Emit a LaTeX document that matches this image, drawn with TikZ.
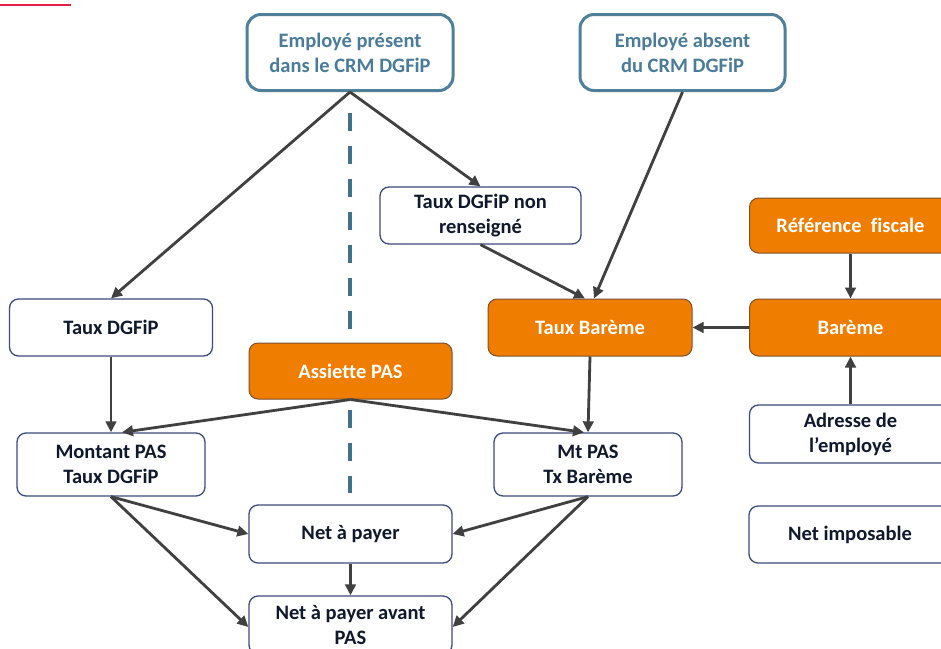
\documentclass[tikz,border=0pt]{standalone}
\usepackage{fontspec}
\setmainfont{Carlito}[Ligatures={NoCommon}]
\usetikzlibrary{arrows.meta,calc}
\definecolor{orng}{HTML}{EF7D00}
\definecolor{orline}{HTML}{7A5030}
\definecolor{boxline}{HTML}{3C4A7C}
\definecolor{txt}{HTML}{10182C}
\definecolor{topc}{HTML}{4F7F99}
\definecolor{toptxt}{HTML}{4A7C9A}
\definecolor{arrc}{HTML}{404040}
\definecolor{dashc}{HTML}{41718C}
\definecolor{redl}{HTML}{E31F4A}
\tikzset{
  whitebox/.style={draw=boxline, line width=1.3pt, rounded corners=9pt, fill=white, align=center, inner sep=0pt, text=txt},
  orangebox/.style={draw=orline, line width=1pt, rounded corners=9pt, fill=orng, align=center, inner sep=0pt, text=white},
  topbox/.style={draw=topc, line width=3pt, rounded corners=14pt, fill=white, align=center, inner sep=0pt, text=toptxt},
  conn/.style={draw=arrc, line width=2.8pt, -{Triangle[length=11pt,width=10.5pt]}},
  dashline/.style={draw=dashc, line width=4pt, dash pattern=on 18pt off 15pt},
  redline/.style={draw=redl, line width=1.6pt}
}
\begin{document}
\begin{tikzpicture}[x=1pt,y=-1pt,font=\fontsize{20.5}{25}\selectfont\bfseries]
\clip (0,0) rectangle (941,648);
\fill[white] (0,0) rectangle (941,648);
\draw[redline] (0,5) -- (71,5);
\coordinate (dtop) at (350,113);
\coordinate (dbot) at (350,493);
\draw[dashline] (dtop) -- (dbot);

\node[topbox, minimum width=206pt, minimum height=76pt] (pres) at (350,52.5) {Employé présent\\dans le CRM DGFiP};
\node[topbox, minimum width=205pt, minimum height=76pt] (abs) at (682.5,52.5) {Employé absent\\du CRM DGFiP};
\node[whitebox, minimum width=201pt, minimum height=57pt] (tnr) at (480.5,215.5) {Taux DGFiP non\\renseigné};
\node[orangebox, minimum width=202pt, minimum height=55pt] (ref) at (850.5,225.5) {Référence\ \ fiscale};
\node[whitebox, minimum width=203pt, minimum height=57pt] (td) at (111,327.5) {Taux DGFiP};
\node[orangebox, minimum width=204pt, minimum height=57pt] (tb) at (590,327.5) {Taux Barème};
\node[orangebox, minimum width=202pt, minimum height=57pt] (bar) at (850.5,327.5) {Barème};
\node[orangebox, minimum width=203pt, minimum height=56pt] (asp) at (350.5,371) {Assiette PAS};
\node[whitebox, minimum width=188pt, minimum height=63pt] (mp) at (111,464.5) {Montant PAS\\Taux DGFiP};
\node[whitebox, minimum width=188pt, minimum height=63pt] (mt) at (588,464.5) {Mt PAS\\Tx Barème};
\node[whitebox, minimum width=202pt, minimum height=58pt] (adr) at (850.5,434) {Adresse de\\l’employé};
\node[whitebox, minimum width=203pt, minimum height=58pt] (np) at (350.5,534) {Net à payer};
\node[whitebox, minimum width=203pt, minimum height=58pt] (nav) at (350.5,625) {Net à payer avant\\PAS};
\node[whitebox, minimum width=202pt, minimum height=57pt] (ni) at (850,534.5) {Net imposable};

\draw[conn] (pres.south) -- (td.north);
\draw[conn] (pres.south) -- (tnr.north);
\draw[conn] (abs.south) -- ([xshift=4pt]tb.north);
\draw[conn] (tnr.south) -- ([xshift=-5pt]tb.north);
\draw[conn] (ref.south) -- (bar.north);
\draw[conn] (bar.west) -- (tb.east);
\draw[conn] (adr.north) -- (bar.south);
\draw[conn] (td.south) -- (mp.north);
\draw[conn] (asp.south) -- ([xshift=11pt]mp.north);
\draw[conn] (asp.south) -- ([xshift=-4pt]mt.north);
\draw[conn] (tb.south) -- (mt.north);
\draw[conn] (mp.south) -- (np.west);
\draw[conn] (mp.south) -- ([yshift=-2pt]nav.west);
\draw[conn] (mt.south) -- (np.east);
\draw[conn] (mt.south) -- ([yshift=-2pt]nav.east);
\draw[conn] (np.south) -- (nav.north);
\end{tikzpicture}
\end{document}
